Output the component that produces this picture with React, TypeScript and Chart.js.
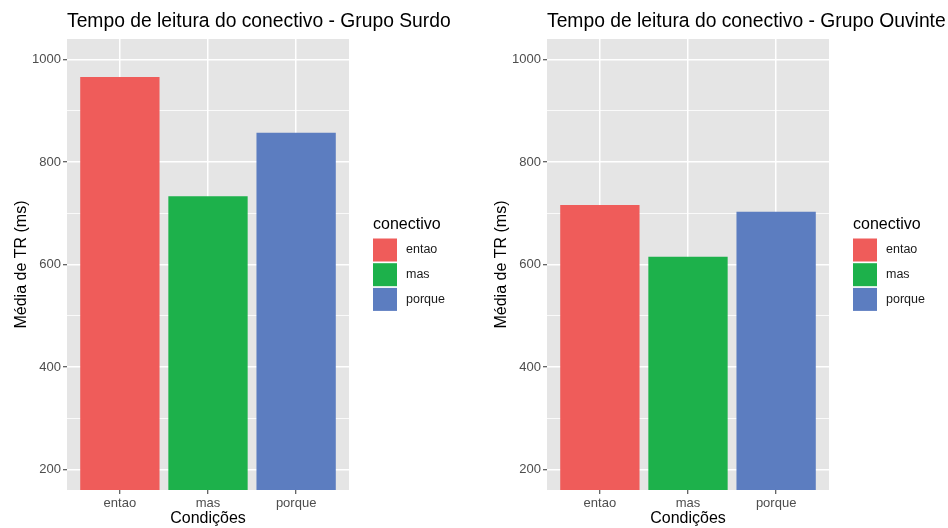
import React, { useEffect, useRef } from "react";
import { Chart, registerables } from "chart.js";

Chart.register(...registerables);

// ---- data ----
const categories = ["entao", "mas", "porque"];
const surdoValues = [966, 733, 857];
const ouvinteValues = [716, 615, 703];
const barColors = ["#EF5C5A", "#1DB14B", "#5C7DC0"];
const yMajorTicks = [200, 400, 600, 800, 1000];
const yMinorTicks = [300, 500, 700, 900];
const panelTitles = [
  "Tempo de leitura do conectivo - Grupo Surdo",
  "Tempo de leitura do conectivo - Grupo Ouvinte",
];
const legendTitle = "conectivo";
const xAxisTitle = "Condições";
const yAxisTitle = "Média de TR (ms)";

const FONT = "'Liberation Sans', Arial, Helvetica, sans-serif";

const panelBgPlugin = {
  id: "panelBg",
  beforeDraw(chart: any) {
    const { ctx, chartArea: a } = chart;
    ctx.save();
    ctx.fillStyle = "#E5E5E5";
    ctx.fillRect(a.left, a.top, a.right - a.left, a.bottom - a.top);
    ctx.restore();
  },
};

const ggTitlePlugin = {
  id: "ggTitle",
  afterDraw(chart: any, _args: any, opts: any) {
    const { ctx, chartArea: a } = chart;
    ctx.save();
    ctx.font = `19.3px ${FONT}`;
    ctx.fillStyle = "#000000";
    ctx.textAlign = "left";
    ctx.textBaseline = "alphabetic";
    ctx.fillText(opts.text, a.left, 26.5);
    ctx.restore();
  },
};

const ggLegendPlugin = {
  id: "ggLegend",
  afterDraw(chart: any, _args: any, opts: any) {
    const { ctx, chartArea: a } = chart;
    const x0 = a.right + 24;
    const mid = (a.top + a.bottom) / 2;
    const top = mid - 48;
    ctx.save();
    ctx.fillStyle = "#000000";
    ctx.font = `16px ${FONT}`;
    ctx.textAlign = "left";
    ctx.textBaseline = "alphabetic";
    ctx.fillText(opts.title, x0, top + 12.5);
    const boxTop = top + 22;
    const pitch = 24.7;
    opts.labels.forEach((lab: string, i: number) => {
      const y = boxTop + i * pitch;
      ctx.fillStyle = opts.colors[i];
      ctx.fillRect(x0, y, 24, 23);
      ctx.fillStyle = "#1A1A1A";
      ctx.font = `12.5px ${FONT}`;
      ctx.textBaseline = "middle";
      ctx.fillText(lab, x0 + 33, y + 11.5);
    });
    ctx.restore();
  },
};

function Panel({ title, values, left }: { title: string; values: number[]; left: number }) {
  const ref = useRef<HTMLCanvasElement | null>(null);
  useEffect(() => {
    if (!ref.current) return;
    const allY = [...yMajorTicks, ...yMinorTicks].sort((a, b) => a - b);
    const chart = new Chart(ref.current, {
      type: "bar",
      data: {
        datasets: [
          {
            data: values.map((v, i) => ({ x: i, y: v })),
            backgroundColor: barColors,
            borderWidth: 0,
            categoryPercentage: 0.9,
            barPercentage: 1,
          } as any,
        ],
      },
      options: {
        animation: false,
        responsive: false,
        maintainAspectRatio: false,
        layout: { padding: { top: 39, right: 125, left: 0, bottom: 0 } },
        plugins: {
          legend: { display: false },
          tooltip: { enabled: false },
          title: { display: false },
          ggTitle: { text: title },
          ggLegend: { title: legendTitle, labels: categories, colors: barColors },
        } as any,
        scales: {
          x: {
            type: "linear",
            min: -0.6,
            max: 2.6,
            offset: false,
            afterBuildTicks: (ax: any) => {
              ax.ticks = categories.map((_, i) => ({ value: i }));
            },
            afterFit: (ax: any) => {
              ax.height = 38;
            },
            ticks: {
              callback: (v: any) => categories[v as number] ?? "",
              color: "#4D4D4D",
              font: { family: FONT, size: 13 },
              padding: 2,
              maxRotation: 0,
              autoSkip: false,
            },
            grid: {
              offset: false,
              color: "#FFFFFF",
              lineWidth: 1.5,
              tickLength: 4,
              tickColor: "#333333",
              tickWidth: 1,
            },
            border: { display: false },
            title: {
              display: true,
              text: xAxisTitle,
              color: "#000000",
              font: { family: FONT, size: 16, lineHeight: 1.2 },
              padding: { top: 0, bottom: 0 },
            },
          } as any,
          y: {
            type: "linear",
            min: 160,
            max: 1040,
            afterBuildTicks: (ax: any) => {
              ax.ticks = allY.map((v) => ({ value: v }));
            },
            afterFit: (ax: any) => {
              ax.width = 67;
            },
            ticks: {
              callback: (v: any) => (yMajorTicks.includes(v as number) ? String(v) : ""),
              color: "#4D4D4D",
              font: { family: FONT, size: 13 },
              padding: 2,
              autoSkip: false,
            },
            grid: {
              color: "#FFFFFF",
              lineWidth: (c: any) => (yMajorTicks.includes(c.tick?.value) ? 1.5 : 0.8),
              tickLength: 4,
              tickColor: (c: any) =>
                yMajorTicks.includes(c.tick?.value) ? "#333333" : "rgba(0,0,0,0)",
              tickWidth: 1,
            },
            border: { display: false },
            title: {
              display: true,
              text: yAxisTitle,
              color: "#000000",
              font: { family: FONT, size: 16, lineHeight: 1.2 },
              padding: { top: 12, bottom: 0 },
            },
          } as any,
        },
      },
      plugins: [panelBgPlugin, ggTitlePlugin, ggLegendPlugin],
    });
    return () => chart.destroy();
  }, [title, values]);

  return (
    <canvas
      ref={ref}
      width={474}
      height={528}
      style={{ position: "absolute", left, top: 0, width: 474, height: 528 }}
    />
  );
}

export default function App() {
  return (
    <div
      style={{
        position: "absolute",
        left: 0,
        top: 0,
        width: 948,
        height: 528,
        overflow: "hidden",
        background: "#FFFFFF",
      }}
    >
      <Panel title={panelTitles[0]} values={surdoValues} left={0} />
      <Panel title={panelTitles[1]} values={ouvinteValues} left={480} />
    </div>
  );
}
